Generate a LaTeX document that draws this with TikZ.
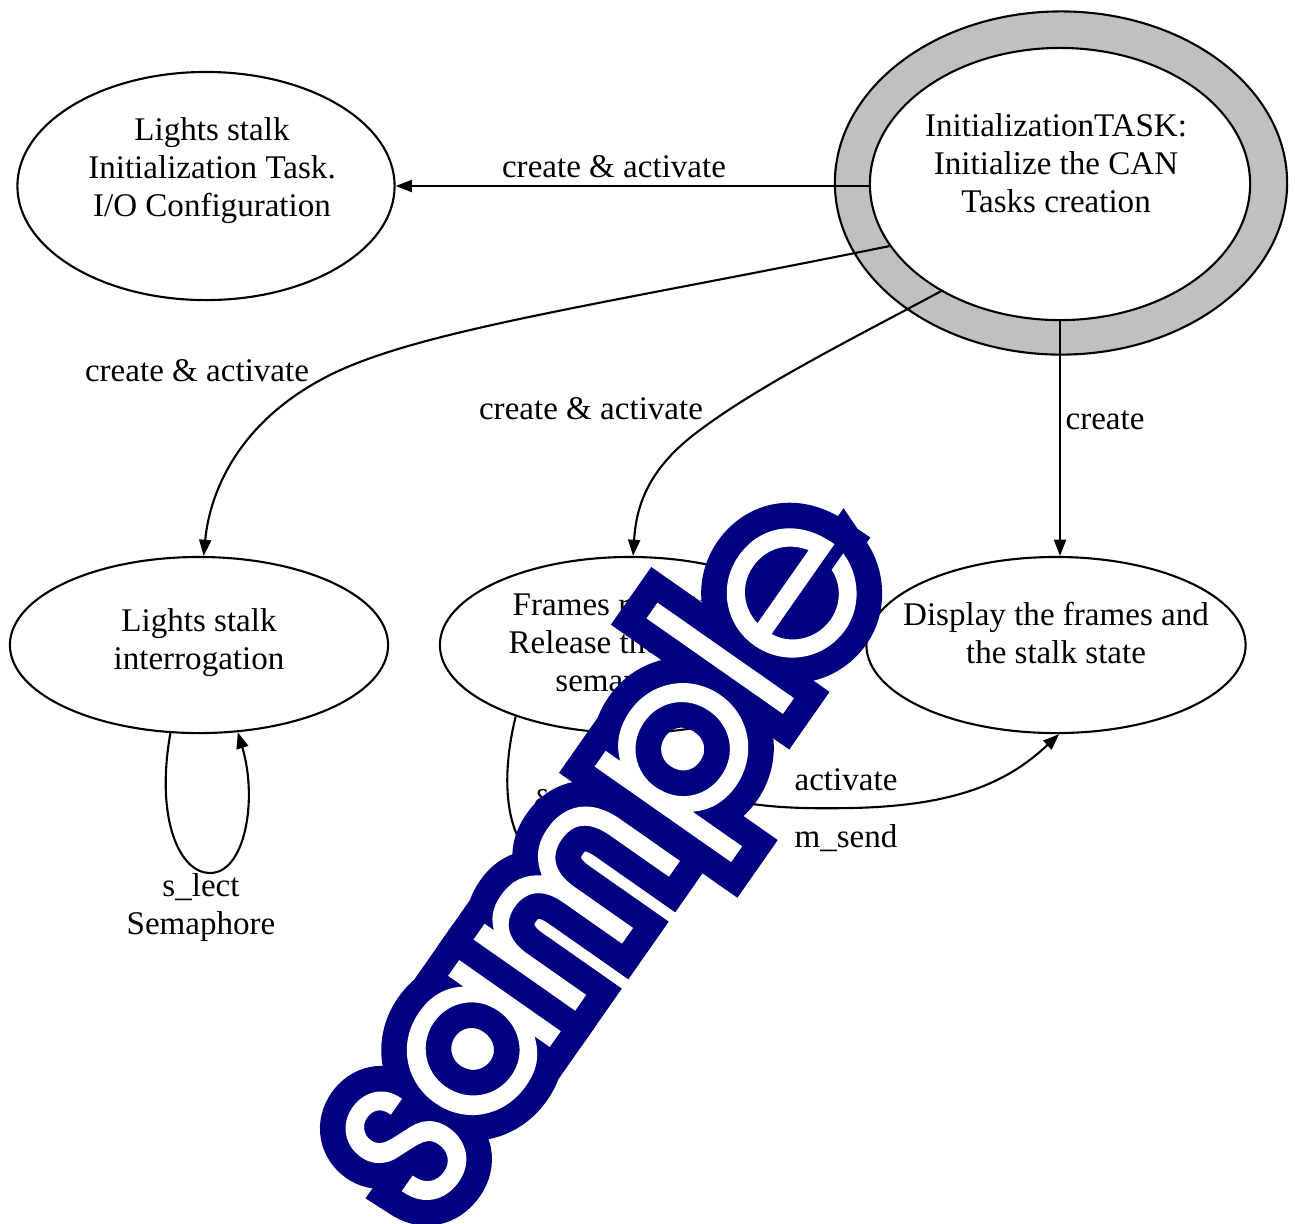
\documentclass[tikz,border=0pt]{standalone}
\usepackage{fontspec}
\setmainfont{Liberation Serif}
\newfontfamily\stampfont{texgyreadventor-regular.otf}
\usetikzlibrary{shapes.geometric, arrows.meta}

\definecolor{ringgray}{RGB}{192,192,192}
\definecolor{stampnavy}{RGB}{0,0,128}

% stamp lettering: a wide navy stroke under a slightly thickened white fill
\newcommand\stampedge{\special{pdf:literal direct 0 0 0.502 rg 0 0 0.502 RG 2 Tr 15.3 w 0 j 2 M}}
\newcommand\stampface{\special{pdf:literal direct 1 g 1 G 2 Tr 0.8 w 0 j 2 M}}
\newcommand\stampoff{\special{pdf:literal direct 0 Tr}}

\tikzset{
  state/.style={ellipse, draw, line width=0.6pt, fill=white, inner sep=0pt},
  txt/.style={align=center, font=\fontsize{9.4}{10.8}\selectfont, inner sep=0pt},
  lbl/.style={align=center, font=\fontsize{9.4}{10.8}\selectfont, inner sep=0pt},
  flow/.style={draw, line width=0.6pt, -{Triangle[length=4.6pt,width=3.4pt]}},
  stamp/.style={font=\stampfont\fontsize{63}{63}\selectfont, rotate=55, inner sep=0pt},
}

\begin{document}
\begin{tikzpicture}[x=0.01cm, y=-0.01cm]
\useasboundingbox (0,0) rectangle (1295,1223);
\fill[white] (0,0) rectangle (1295,1223);

% initialisation task: inner ellipse inside a gray ring
\node[state, fill=ringgray, minimum width=4.52cm, minimum height=3.43cm] (initring) at (1061,183) {};
\node[state, minimum width=3.8cm, minimum height=2.72cm] (init) at (1060,184) {};
\node[txt] (init-t) at (1056,163) {InitializationTASK:\\Initialize the CAN\\Tasks creation};

% task states
\node[state, minimum width=3.77cm, minimum height=2.28cm] (cfg) at (206,186) {};
\node[txt] (cfg-t) at (212,171) {Lights stalk\\Initialization Task.\\I/O Configuration};

\node[state, minimum width=3.78cm, minimum height=1.76cm] (poll) at (199,645) {};
\node[txt] (poll-t) at (199,643) {Lights stalk\\interrogation};

\node[state, minimum width=3.8cm, minimum height=1.76cm] (rx) at (630,645) {};
\node[txt] (rx-t) at (627,646) {Frames reception\\Release the s\_lect\\semaphore};

\node[state, minimum width=3.79cm, minimum height=1.76cm] (disp) at (1056,645) {};
\node[txt] (disp-t) at (1056,633) {Display the frames and\\the stalk state};

% creation edges
\draw[flow] (init.west |- cfg.east) -- (cfg.east);
\node[lbl] (l-cfg) at (614,167) {create \& activate};

\draw[flow] (init.200) .. controls (600,305) and (420,330) .. (330,375)
                      .. controls (240,420) and (210,490) .. (poll.87);
\node[lbl] (l-poll) at (197,371) {create \& activate};

\draw[flow] (init.222) .. controls (850,340) and (760,385) .. (700,430)
                      .. controls (645,470) and (636,510) .. (rx.88);
\node[lbl] (l-rx) at (591,409) {create \& activate};

\draw[flow] (init.south) -- (init.south |- disp.north);
\node[lbl] (l-disp) at (1105,420) {create};

% self loops
\draw[flow] (poll.252) .. controls (155,820) and (180,873) .. (210,873)
                       .. controls (245,873) and (258,800) .. (poll.294);
\node[lbl] (l-sem) at (201,908) {s\_lect\\Semaphore};

\draw[flow] (rx.212) .. controls (495,800) and (515,860) .. (548,860)
                     .. controls (590,860) and (600,790) .. (rx.244);
\node[lbl] (l-dt) at (548,801) {δτ};

% activation of the display task
\draw[flow] (rx.274) .. controls (680,800) and (740,810) .. (850,808)
                     .. controls (960,806) and (1010,780) .. (disp.272);
\node[lbl] (l-act) at (846,780) {activate};
\node[lbl] (l-send) at (846,838) {m\_send};

% outlined stamp across the lower half
\node[stamp] (wm-edge) at (607,857) {\stampedge sample\stampoff};
\node[stamp] (wm) at (wm-edge) {\stampface sample\stampoff};
\end{tikzpicture}
\end{document}
